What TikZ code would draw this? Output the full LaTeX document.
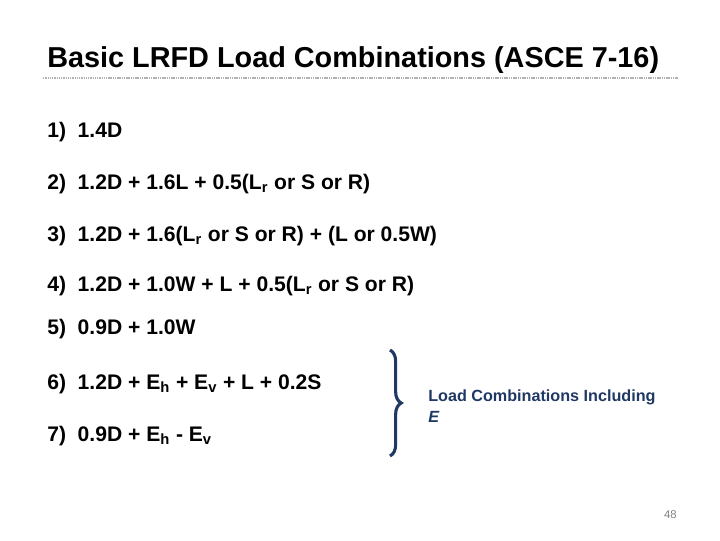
\documentclass[tikz,border=0pt]{standalone}
\usepackage{fontspec}
\setmainfont{Liberation Sans}
\usetikzlibrary{decorations.pathreplacing}
\definecolor{navy}{HTML}{1F3864}
\begin{document}
\begin{tikzpicture}[x=0.025cm,y=-0.025cm,
combo/.style={anchor=base west,inner sep=0pt,font=\fontsize{15}{18}\selectfont\bfseries},
note/.style={anchor=base west,inner sep=0pt,font=\fontsize{11.5}{14}\selectfont\bfseries,text=navy}]
\useasboundingbox (0,0) rectangle (720,540);
\node[anchor=base west,inner sep=0pt,font=\fontsize{20.5}{24}\selectfont\bfseries] (title) at (47,67) {Basic LRFD Load Combinations (ASCE 7-16)};
\draw[gray!60,line width=1.2pt,dash pattern=on 1pt off 0.6pt] (43,78) -- (678,78);
\node[combo] (c1) at (47,137) {1)\ \ 1.4D};
\node[combo] (c2) at (47,189) {2)\ \ 1.2D + 1.6L + 0.5(L$_\mathbf{r}$ or S or R)};
\node[combo] (c3) at (47,241) {3)\ \ 1.2D + 1.6(L$_\mathbf{r}$ or S or R) + (L or 0.5W)};
\node[combo] (c4) at (47,291) {4)\ \ 1.2D + 1.0W + L + 0.5(L$_\mathbf{r}$ or S or R)};
\node[combo] (c5) at (47,334) {5)\ \ 0.9D + 1.0W};
\node[combo] (c6) at (47,389) {6)\ \ 1.2D + E$_\mathbf{h}$ + E$_\mathbf{v}$ + L + 0.2S};
\node[combo] (c7) at (47,441) {7)\ \ 0.9D + E$_\mathbf{h}$ - E$_\mathbf{v}$};
\coordinate (top) at (390,350);
\coordinate (bot) at (390,456);
\draw[navy,line width=2.2pt,decorate,decoration={brace,amplitude=8pt}] (top) -- (bot);
\node[note] (incl) at (428,401) {Load Combinations Including};
\node[note,font=\fontsize{11.5}{14}\selectfont\bfseries\itshape] (eq) at (428,422) {E};
\node[anchor=base east,inner sep=0pt,font=\fontsize{8}{10}\selectfont,text=gray] (page) at (677,518) {48};
\end{tikzpicture}
\end{document}
